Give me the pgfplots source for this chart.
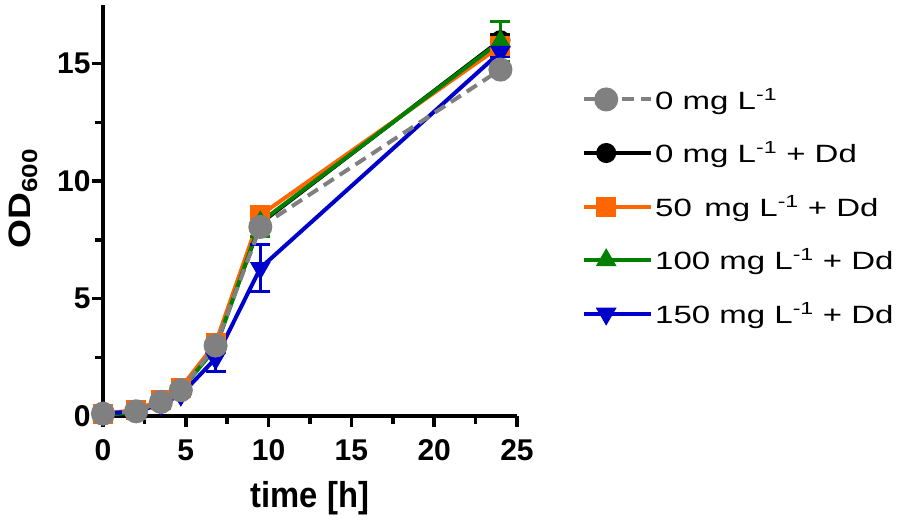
\documentclass[border=0pt]{standalone}
\usepackage{fontspec}
\setmainfont{Liberation Sans}
\newfontfamily\legfont[FakeStretch=1.32]{Liberation Sans}
\newfontfamily\ylabfont[FakeStretch=1.2]{Liberation Sans}
\newfontfamily\xlabfont[FakeStretch=0.91]{Liberation Sans}
\usepackage{pgfplots}
\pgfplotsset{compat=1.18}
\definecolor{cgray}{RGB}{128,128,128}
\definecolor{corange}{RGB}{255,102,0}
\definecolor{cgreen}{RGB}{0,128,0}
\definecolor{cblue}{RGB}{0,0,204}
\pgfplotsset{
  eb/.style={error bars/.cd, y dir=both, y explicit,
     error bar style={solid, line width=3.5pt},
     error mark options={solid, rotate=90, mark size=10pt, line width=3.5pt}, /pgfplots/.cd},
  sgray/.style={cgray, line width=4pt, dash pattern=on 12pt off 7pt, mark=*, mark size=10pt, mark options={solid, fill=cgray, draw=cgray}},
  sblack/.style={black, line width=4pt, solid, mark=*, mark size=8pt, mark options={solid, fill=black}},
  sorange/.style={corange, line width=4pt, solid, mark=square*, mark size=8pt, mark options={solid, fill=corange}},
  sgreen/.style={cgreen, line width=4pt, solid, mark=triangle*, mark size=11pt, mark options={solid, fill=cgreen, line width=1pt}},
  sblue/.style={cblue, line width=4pt, solid, mark=triangle*, mark size=11pt, mark options={solid, fill=cblue, rotate=180, line width=1pt}},
}
\begin{document}
\begin{tikzpicture}
\begin{axis}[
  scale only axis, width=414pt, height=411pt,
  xmin=0, xmax=25, ymin=0, ymax=17.5,
  clip=false,
  axis lines=left, axis line style={-, line width=4pt},
  xtick={0,5,...,25}, minor xtick={2.5,7.5,...,22.5},
  ytick={0,5,10,15}, minor ytick={2.5,7.5,12.5},
  tick align=outside, major tick length=11pt, minor tick length=8pt,
  every tick/.style={black, line width=3.5pt},
  /pgf/number format/assume math mode=true,
  ticklabel style={font=\bfseries\fontsize{30}{32}\selectfont},
  xticklabel style={yshift=-9pt},
  yticklabel style={xshift=2pt},
  xlabel={\xlabfont\bfseries time [h]},
  ylabel={\ylabfont\bfseries OD\textsubscript{600}},
  xlabel style={font=\fontsize{36}{38}\selectfont, yshift=-14pt},
  ylabel style={font=\fontsize{31}{34}\selectfont, yshift=13pt, xshift=12pt},
  legend style={at={(1.157,0.803)}, anchor=north west, draw=none, fill=none,
    font=\legfont\fontsize{25}{28}\selectfont, row sep=27pt, inner sep=0pt},
  legend cell align=left,
  legend image code/.code={\draw[mark repeat=2, mark phase=2] plot coordinates {(0pt,0pt) (22pt,0pt) (45pt,0pt)};
    \path (0pt,0pt) -- (67pt,0pt);},
]
\addlegendimage{sgray}
\addlegendentry{0 mg L\textsuperscript{-1}}
\addlegendimage{sblack}
\addlegendentry{0 mg L\textsuperscript{-1} + Dd}
\addlegendimage{sorange}
\addlegendentry{50\hspace{0.5em}mg L\textsuperscript{-1} + Dd}
\addlegendimage{sgreen}
\addlegendentry{100 mg L\textsuperscript{-1} + Dd}
\addlegendimage{sblue}
\addlegendentry{150 mg L\textsuperscript{-1} + Dd}

\addplot[forget plot, sblack, eb] table[x=t, y=y, y error=e] {
t y e
0 0.10 0.02
2 0.20 0.03
3.5 0.60 0.05
4.7 1.10 0.08
6.8 3.00 0.15
9.5 8.20 0.20
24 16.00 0.25
};
\addplot[forget plot, sorange, eb] table[x=t, y=y, y error=e] {
t y e
0 0.10 0.02
2 0.25 0.03
3.5 0.70 0.05
4.7 1.20 0.08
6.8 3.10 0.15
9.5 8.55 0.20
24 15.75 0.25
};
\addplot[forget plot, sgreen, eb] table[x=t, y=y, y error=e] {
t y e
0 0.05 0.02
2 0.15 0.03
3.5 0.55 0.05
4.7 1.10 0.08
6.8 2.90 0.15
9.5 8.25 0.60
24 15.95 0.85
};
\addplot[forget plot, sblue, eb] table[x=t, y=y, y error=e] {
t y e
0 0.10 0.02
2 0.20 0.03
3.5 0.50 0.05
4.7 0.90 0.08
6.8 2.45 0.55
9.5 6.30 1.00
24 15.50 0.20
};
\addplot[forget plot, sgray, eb] table[x=t, y=y, y error=e] {
t y e
0 0.10 0.02
2 0.20 0.03
3.5 0.60 0.05
4.7 1.10 0.08
6.8 3.00 0.15
9.5 8.05 0.20
24 14.75 0.20
};
\path (rel axis cs:0,0) ++(-103pt,-104pt) rectangle ++(898pt,520pt);
\end{axis}
\end{tikzpicture}
\end{document}
